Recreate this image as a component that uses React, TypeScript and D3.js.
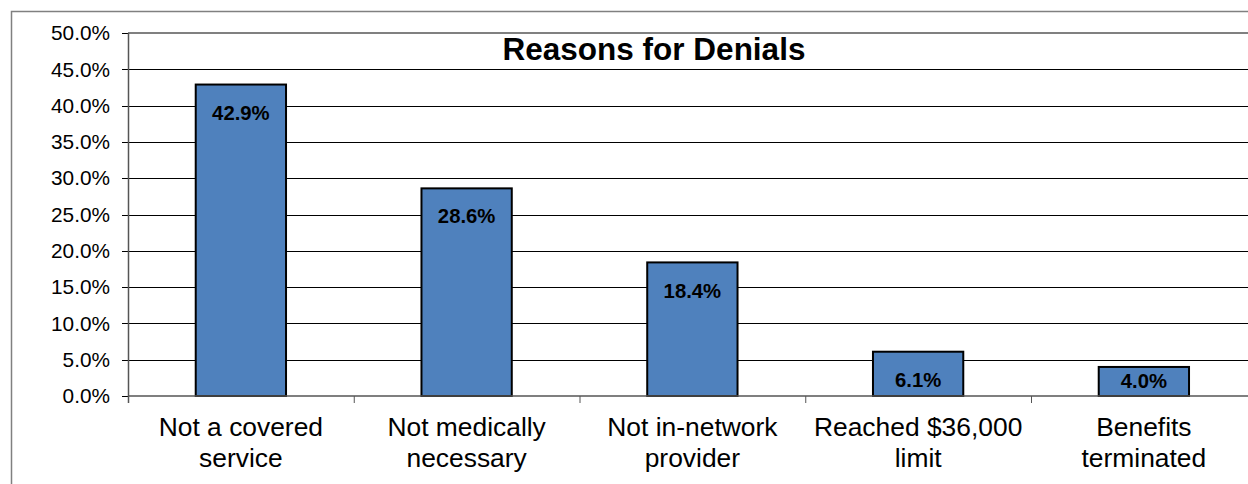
import React from "react";
import * as d3 from "d3";

const categories: string[][] = [
  ["Not a covered", "service"],
  ["Not medically", "necessary"],
  ["Not in-network", "provider"],
  ["Reached $36,000", "limit"],
  ["Benefits", "terminated"],
];
const values: number[] = [42.9, 28.6, 18.4, 6.1, 4.0];
const yTicks: number[] = [0, 5, 10, 15, 20, 25, 30, 35, 40, 45, 50];
const title = "Reasons for Denials";

const W = 1248;
const H = 484;
const left = 128;
const right = 128 + 5 * 225.75;
const top = 33;
const bottom = 396;
const font = "'Liberation Sans', Arial, sans-serif";

export default function App() {
  const keys = categories.map((c) => c.join(" "));
  const x = d3.scaleBand<string>().domain(keys).range([left, right]).paddingInner(0.6).paddingOuter(0.3);
  const y = d3.scaleLinear().domain([0, 50]).range([bottom, top]);
  const step = x.step();
  return (
    <svg width={W} height={H} style={{ position: "absolute", left: 0, top: 0, background: "#fff" }}>
      <rect x={0} y={0} width={W} height={H} fill="#fff" />
      <rect x={11.5} y={11.5} width={1400} height={600} fill="none" stroke="#808080" strokeWidth={1.5} />
      {yTicks.map((t) => (
        <g key={t}>
          {t > 0 && t < 50 && (
            <line x1={left} x2={W} y1={Math.round(y(t)) + 0.5} y2={Math.round(y(t)) + 0.5} stroke="#000" strokeWidth={1} />
          )}
          <line x1={122} x2={left} y1={Math.round(y(t)) + 0.5} y2={Math.round(y(t)) + 0.5} stroke="#000" strokeWidth={1} />
          <text x={110} y={y(t)} dy="0.35em" textAnchor="end" fontFamily={font} fontSize={20.8} fill="#000">
            {d3.format(".1f")(t) + "%"}
          </text>
        </g>
      ))}
      <line x1={left} x2={W} y1={y(50)} y2={y(50)} stroke="#808080" strokeWidth={2} />
      {keys.map((k, i) => (
        <line key={"tk" + i} x1={left + i * step + 0.5} x2={left + i * step + 0.5} y1={bottom} y2={403} stroke="#555" strokeWidth={1} />
      ))}
      {keys.map((k, i) => {
        const ty = y(values[i]);
        return (
          <g key={k}>
            <rect x={x(k)!} y={ty} width={x.bandwidth()} height={bottom - ty} fill="#4F81BD" stroke="#000" strokeWidth={2} />
          </g>
        );
      })}
      <line x1={left} x2={W} y1={bottom} y2={bottom} stroke="#555" strokeWidth={1.5} />
      <line x1={left + 0.5} x2={left + 0.5} y1={top} y2={403} stroke="#555" strokeWidth={1.5} />
      {keys.map((k, i) => {
        const ty = y(values[i]);
        const cy = Math.min(ty + 28, bottom - 15);
        return (
          <text key={"l" + k} x={x(k)! + x.bandwidth() / 2} y={cy} dy="0.35em" textAnchor="middle" fontFamily={font} fontSize={20.3} fontWeight="bold" fill="#000">
            {values[i].toFixed(1) + "%"}
          </text>
        );
      })}
      {categories.map((c, i) => (
        <text key={"c" + i} x={x(keys[i])! + x.bandwidth() / 2} textAnchor="middle" fontFamily={font} fontSize={26.4} fill="#000">
          {c.map((line, j) => (
            <tspan key={j} x={x(keys[i])! + x.bandwidth() / 2} y={436 + j * 31}>
              {line}
            </tspan>
          ))}
        </text>
      ))}
      <text x={654} y={60} textAnchor="middle" fontFamily={font} fontSize={31.5} fontWeight="bold" fill="#000">
        {title}
      </text>
    </svg>
  );
}
